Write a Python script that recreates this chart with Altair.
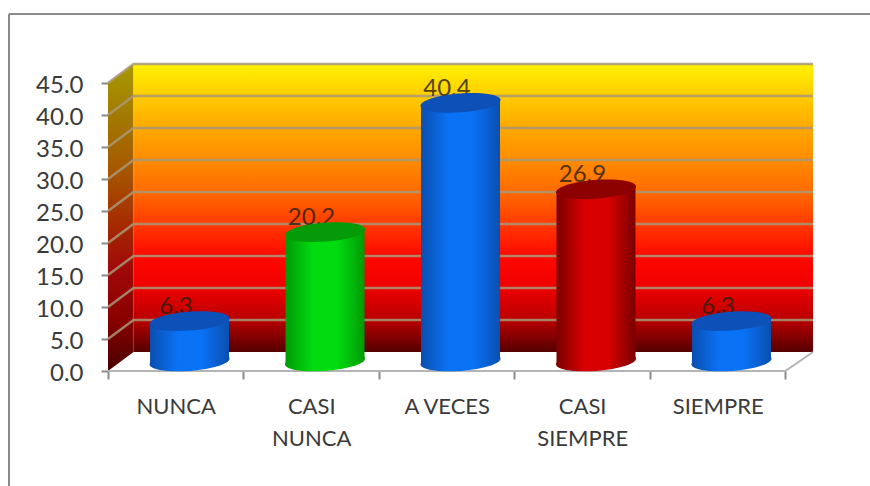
import altair as alt
import pandas as pd

# Survey results
CATEGORIES = [["NUNCA"], ["CASI", "NUNCA"], ["A VECES"], ["CASI", "SIEMPRE"], ["SIEMPRE"]]
VALUES = [6.3, 20.2, 40.4, 26.9, 6.3]
Y_TICKS = [0, 5, 10, 15, 20, 25, 30, 35, 40, 45]

# Side, centre and lid colours of each cylinder
BAR_COLORS = [
    ("#0a4fb0", "#0a72f5", "#0c50b8"),
    ("#009a05", "#00dc10", "#049a08"),
    ("#0a4fb0", "#0a72f5", "#0c50b8"),
    ("#7a0000", "#d80000", "#8c0000"),
    ("#0a4fb0", "#0a72f5", "#0c50b8"),
]

WALL_STOPS = ["#fff200", "#ffcc00", "#ffa800", "#ff8c00", "#ff6a00",
              "#ff3a00", "#ff0800", "#ee0000", "#b80000", "#550000"]
SIDE_STOPS = ["#a89a00", "#a27a00", "#a65a00", "#a63000", "#a00808", "#8a0000", "#4a0000"]

# The 3D box: depth of the back wall expressed in axis units
DEPTH_X = 0.2037
DEPTH_X_LEFT = 0.188
DEPTH_Y = 2.97
TOP = 45 + DEPTH_Y
RIGHT = 5 + DEPTH_X
HALF_W = 0.2915
TILT = 0.47
LID = "M-1,0.075A1,0.235,-4.3,1,1,1,-0.075A1,0.235,-4.3,1,1,-1,0.075Z"
FONT = "Lato"
TEXT = "#3a3a3a"

x_scale = alt.Scale(domain=[0, RIGHT], nice=False, zero=False)
y_scale = alt.Scale(domain=[0, TOP], nice=False, zero=False)


def vgrad(stops):
    n = len(stops) - 1
    return alt.LinearGradient(
        gradient="linear", x1=0, y1=0, x2=0, y2=1,
        stops=[alt.GradientStop(offset=i / n, color=c) for i, c in enumerate(stops)],
    )


def hgrad(edge, centre):
    return alt.LinearGradient(
        gradient="linear", x1=0, y1=0, x2=1, y2=0,
        stops=[
            alt.GradientStop(offset=0, color=edge),
            alt.GradientStop(offset=0.35, color=centre),
            alt.GradientStop(offset=0.65, color=centre),
            alt.GradientStop(offset=1, color=edge),
        ],
    )


label_table = str(CATEGORIES)
x_axis = alt.Axis(
    values=[i / 2 for i in range(11)],
    domain=False, grid=False, tickSize=8, tickWidth=2, tickColor="#8a8a8a",
    tickOpacity=alt.expr("datum.value % 1 ? 0 : 1"),
    labelAngle=0, labelOverlap=False, labelFlush=False, labelBound=False,
    labelExpr=f"datum.value % 1 ? {label_table}[floor(datum.value)] : ''",
    labelFont=FONT, labelFontSize=22, labelColor=TEXT,
    labelLineHeight=32, labelPadding=17, labelAlign="center",
)
y_axis = alt.Axis(
    values=Y_TICKS, format=".1f",
    domain=False, grid=False, tickSize=7, tickWidth=2, tickColor="#8a8a8a",
    labelFont=FONT, labelFontSize=24, labelColor=TEXT, labelOffset=2,
    labelPadding=18, labelOverlap=False, labelFlush=False,
)
X = alt.X("x:Q", scale=x_scale, title=None, axis=x_axis)
Y = alt.Y("y:Q", scale=y_scale, title=None, axis=y_axis)

# Back wall and slanted side wall
back_wall = (
    alt.Chart(pd.DataFrame({"x": [DEPTH_X_LEFT], "x2": [RIGHT], "y": [DEPTH_Y], "y2": [TOP]}))
    .mark_rect(color=vgrad(WALL_STOPS))
    .encode(x=X, x2="x2:Q", y=Y, y2="y2:Q")
)
side_wall = (
    alt.Chart(pd.DataFrame({"x": [0, DEPTH_X_LEFT], "y": [0, DEPTH_Y], "y2": [45, TOP]}))
    .mark_area(color=vgrad(SIDE_STOPS), opacity=1)
    .encode(x=X, y=Y, y2="y2:Q")
)

# Grid lines run up the side wall and across the back wall
grid_rows = []
for t in Y_TICKS[1:]:
    grid_rows += [
        {"tick": t, "o": 0, "x": 0, "y": t},
        {"tick": t, "o": 1, "x": DEPTH_X_LEFT, "y": t + DEPTH_Y},
        {"tick": t, "o": 2, "x": RIGHT, "y": t + DEPTH_Y},
    ]
grid = (
    alt.Chart(pd.DataFrame(grid_rows))
    .mark_line(color="#a89878", strokeWidth=2.5, opacity=0.85)
    .encode(x=X, y=Y, detail="tick:N", order="o:Q")
)

# Front and right edges of the floor
floor_edge = (
    alt.Chart(pd.DataFrame({"x": [0, 5, RIGHT], "y": [0, 0, DEPTH_Y], "o": [0, 1, 2]}))
    .mark_line(color="#b4b4b4", strokeWidth=2)
    .encode(x=X, y=Y, order="o:Q")
)

# Value labels sit behind the cylinders
label_df = pd.DataFrame({
    "x": [i + 0.5 + DEPTH_X / 2 for i in range(len(VALUES))],
    "y": [v + DEPTH_Y / 2 for v in VALUES],
    "value": VALUES,
})
value_labels = (
    alt.Chart(label_df)
    .mark_text(font=FONT, fontSize=24, color="#2a2010", opacity=0.8, dx=-13.5, dy=-14)
    .encode(x=X, y=Y, text=alt.Text("value:Q", format=".1f"))
)

# Cylinders: bottom cap, tilted body, lid
bars = []
for i, (v, (edge, centre, lid)) in enumerate(zip(VALUES, BAR_COLORS)):
    cx = i + 0.5 + DEPTH_X / 2
    base_y = DEPTH_Y / 2
    side = hgrad(edge, centre)
    ends = pd.DataFrame({"x": [cx, cx], "y": [base_y, base_y + v], "end": ["foot", "lid"]})
    foot = (
        alt.Chart(ends[ends.end == "foot"])
        .mark_point(shape=LID, size=6400, filled=True, fill=side, strokeWidth=0, opacity=1)
        .encode(x=X, y=Y)
    )
    body = (
        alt.Chart(pd.DataFrame({
            "x": [cx - HALF_W, cx + HALF_W],
            "y": [base_y + v - TILT, base_y + v + TILT],
            "y2": [base_y - TILT, base_y + TILT],
        }))
        .mark_area(color=side, opacity=1)
        .encode(x=X, y=Y, y2="y2:Q")
    )
    top = (
        alt.Chart(ends[ends.end == "lid"])
        .mark_point(shape=LID, size=6400, filled=True, fill=lid, strokeWidth=0, opacity=1)
        .encode(x=X, y=Y)
    )
    bars += [foot, body, top]

# Frame around the chart area: only its top and left sides fall inside the page
frame_top = (
    alt.Chart(pd.DataFrame({"a": [0]}))
    .mark_rule(color="#8a8a8a", strokeWidth=2)
    .encode(x=alt.value(-99), x2=alt.value(770), y=alt.value(-50))
)
frame_left = (
    alt.Chart(pd.DataFrame({"a": [0]}))
    .mark_rule(color="#8a8a8a", strokeWidth=2)
    .encode(x=alt.value(-99), y=alt.value(-50), y2=alt.value(430))
)

chart = (
    alt.layer(side_wall, back_wall, grid, floor_edge, value_labels, *bars, frame_top, frame_left)
    .resolve_scale(x="shared", y="shared")
    .properties(
        width=705, height=307,
        padding={"left": 108, "top": 64, "right": 57, "bottom": 115},
        autosize=alt.AutoSizeParams(type="none"),
        background="white",
    )
    .configure_view(stroke=None)
)

chart.save("out.html", embed_options={"renderer": "svg", "actions": False})
